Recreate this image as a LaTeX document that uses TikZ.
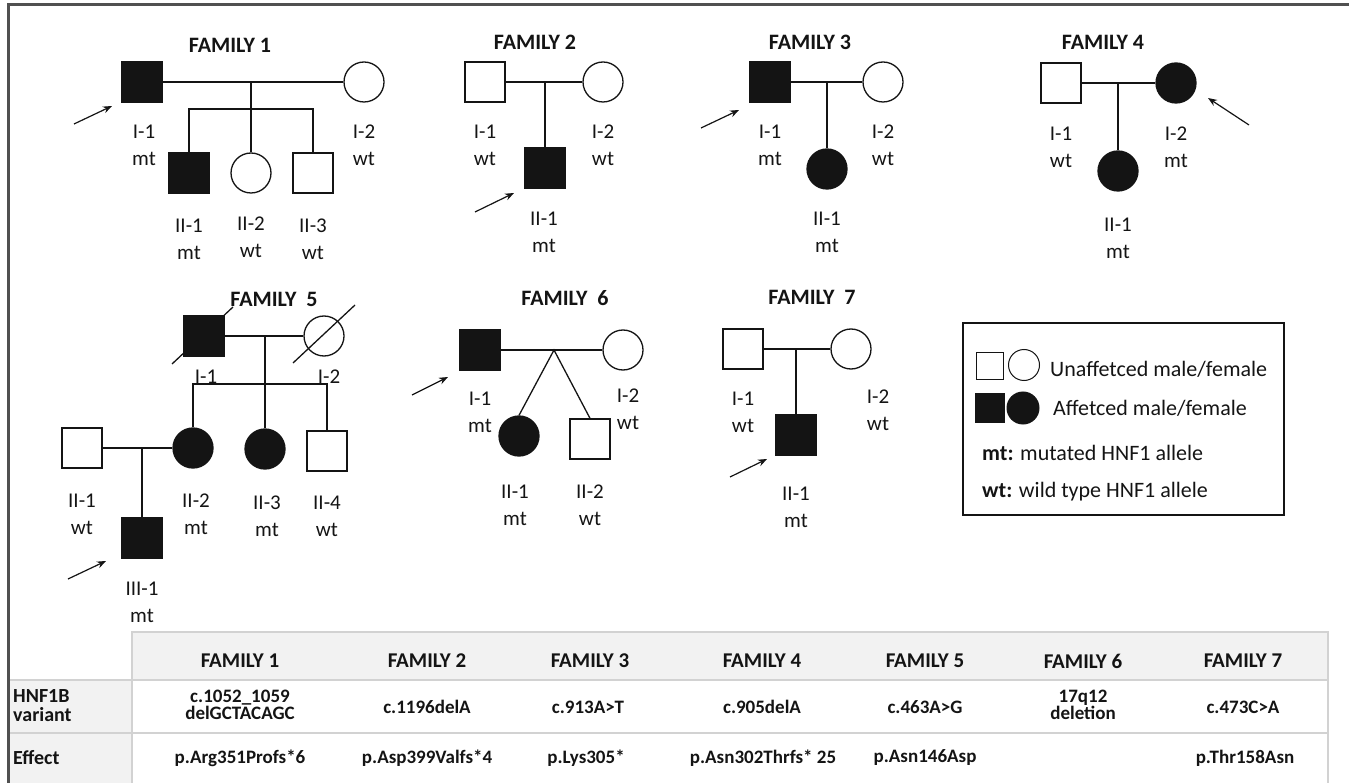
\documentclass[tikz,border=0pt]{standalone}
\usepackage{fontspec}
\setmainfont{Carlito}
\usetikzlibrary{arrows.meta,calc}
\definecolor{ink}{HTML}{141414}
\definecolor{framegray}{HTML}{505050}
\definecolor{cellgray}{HTML}{F2F2F2}
\definecolor{rulegray}{HTML}{D2D2D2}
\tikzset{
  ped/.style={line width=1.3pt, draw=ink},
  msq/.style={rectangle, draw=ink, line width=1.3pt, minimum size=40pt, inner sep=0pt, fill=white},
  fsq/.style={msq, fill=ink},
  fci/.style={circle, draw=ink, line width=1.3pt, minimum size=40pt, inner sep=0pt, fill=white},
  fcf/.style={fci, fill=ink},
  lbl/.style={font=\fontsize{21}{27}\selectfont, text=ink, align=center, inner sep=0pt},
  ttl/.style={font=\bfseries\fontsize{22}{24}\selectfont, text=ink, inner sep=0pt},
  proband/.style={line width=1.2pt, draw=ink, -{Stealth[length=9pt,width=7pt]}},
  legtxt/.style={font=\fontsize{22}{25}\selectfont, text=ink, anchor=west, inner sep=0pt},
  thead/.style={font=\bfseries\fontsize{21}{22}\selectfont, text=ink, inner sep=0pt},
  tcell/.style={font=\bfseries\fontsize{19}{15}\selectfont, text=ink, inner sep=0pt, align=center},
  tleft/.style={font=\bfseries\fontsize{20}{19}\selectfont, text=ink, inner sep=0pt, align=left, anchor=west}
}
\begin{document}
\begin{tikzpicture}[x=1pt,y=-1pt]
\useasboundingbox (0,0) rectangle (1349,783);
% frame
\draw[framegray, line width=3pt] (8,783) -- (8,5) -- (1349,5);

% ===== FAMILY 1 =====
\node[ttl] (t1) at (230,45) {FAMILY 1};
\node[fsq] (f1a) at (142,82) {};
\node[fci] (f1b) at (364,82) {};
\node[fsq] (f1c) at (189,173) {};
\node[fci] (f1d) at (251,173) {};
\node[msq] (f1e) at (313,173) {};
\coordinate (f1m) at (251,82);
\coordinate (f1s) at (251,109);
\draw[ped] (f1a) -- (f1b);
\draw[ped] (f1m) -- (f1d.north);
\draw[ped] (f1c.north) |- (f1s) -| (f1e.north);
\node[lbl] (l1a) at (144,145) {I-1\\mt};
\node[lbl] (l1b) at (364,145) {I-2\\wt};
\node[lbl] (l1c) at (189,239) {II-1\\mt};
\node[lbl] (l1d) at (251,237) {II-2\\wt};
\node[lbl] (l1e) at (313,239) {II-3\\wt};
\coordinate (a1s) at (74,124); \coordinate (a1e) at (112,106);
\draw[proband] (a1s) -- (a1e);

% ===== FAMILY 2 =====
\node[ttl] (t2) at (535,42) {FAMILY 2};
\node[msq] (f2a) at (485,82) {};
\node[fci] (f2b) at (603,82) {};
\node[fsq] (f2c) at (545,168) {};
\coordinate (f2m) at (545,82);
\draw[ped] (f2a) -- (f2b);
\draw[ped] (f2m) -- (f2c.north);
\node[lbl] (l2a) at (485,145) {I-1\\wt};
\node[lbl] (l2b) at (603,145) {I-2\\wt};
\node[lbl] (l2c) at (544,232) {II-1\\mt};
\coordinate (a2s) at (475,212); \coordinate (a2e) at (514,193);
\draw[proband] (a2s) -- (a2e);

% ===== FAMILY 3 =====
\node[ttl] (t3) at (810,42) {FAMILY 3};
\node[fsq] (f3a) at (770,82) {};
\node[fci] (f3b) at (883,82) {};
\node[fcf] (f3c) at (827,169) {};
\coordinate (f3m) at (827,82);
\draw[ped] (f3a) -- (f3b);
\draw[ped] (f3m) -- (f3c.north);
\node[lbl] (l3a) at (770,145) {I-1\\mt};
\node[lbl] (l3b) at (883,145) {I-2\\wt};
\node[lbl] (l3c) at (827,232) {II-1\\mt};
\coordinate (a3s) at (701,128); \coordinate (a3e) at (739,110);
\draw[proband] (a3s) -- (a3e);

% ===== FAMILY 4 =====
\node[ttl] (t4) at (1103,42) {FAMILY 4};
\node[msq] (f4a) at (1061,83) {};
\node[fcf] (f4b) at (1176,83) {};
\node[fcf] (f4c) at (1118,171) {};
\coordinate (f4m) at (1118,83);
\draw[ped] (f4a) -- (f4b);
\draw[ped] (f4m) -- (f4c.north);
\node[lbl] (l4a) at (1061,147) {I-1\\wt};
\node[lbl] (l4b) at (1176,147) {I-2\\mt};
\node[lbl] (l4c) at (1118,238) {II-1\\mt};
\coordinate (a4s) at (1249,125); \coordinate (a4e) at (1208,98);
\draw[proband] (a4s) -- (a4e);

% ===== FAMILY 5 =====
\node[ttl] (t5) at (274,299) {FAMILY\ \ 5};
\node[fsq] (f5a) at (204,336) {};
\node[fci] (f5b) at (324,336) {};
\draw[ped] ($(f5a)+(-32,28)$) -- ($(f5a)+(29,-29)$);
\draw[ped] ($(f5b)+(-31,27)$) -- ($(f5b)+(31,-31)$);
\node[lbl] (l5a) at (206,377) {I-1};
\node[lbl] (l5b) at (329,377) {I-2};
\node[fcf] (f5e) at (193,448) {};
\node[fcf] (f5f) at (265,449) {};
\node[msq] (f5g) at (327,451) {};
\node[msq] (f5d) at (82,448) {};
\node[fsq] (f5h) at (142,538) {};
\coordinate (f5m) at (265,336);
\coordinate (f5s) at (265,384);
\draw[ped] (f5a) -- (f5b);
\draw[ped] (f5m) -- (f5f.north);
\draw[ped] (f5e.north) |- (f5s) -| (f5g.north);
\coordinate (f5n) at (142,448);
\draw[ped] (f5d) -- (f5e);
\draw[ped] (f5n) -- (f5h.north);
\node[lbl] (l5d) at (82,514) {II-1\\wt};
\node[lbl] (l5e) at (196,514) {II-2\\mt};
\node[lbl] (l5f) at (267,516) {II-3\\mt};
\node[lbl] (l5g) at (327,516) {II-4\\wt};
\node[lbl] (l5h) at (142,602) {III-1\\mt};
\coordinate (a5s) at (68,579); \coordinate (a5e) at (106,561);
\draw[proband] (a5s) -- (a5e);

% ===== FAMILY 6 =====
\node[ttl] (t6) at (565,298) {FAMILY\ \ 6};
\node[fsq] (f6a) at (480,350) {};
\node[fci] (f6b) at (623,350) {};
\node[fcf] (f6c) at (519,436) {};
\node[msq] (f6d) at (590,439) {};
\coordinate (f6m) at (554,350);
\draw[ped] (f6a) -- (f6b);
\draw[ped] (f6c.north) -- (f6m) -- (f6d.north);
\node[lbl] (l6a) at (480,412) {I-1\\mt};
\node[lbl] (l6b) at (628,409) {I-2\\wt};
\node[lbl] (l6c) at (515,505) {II-1\\mt};
\node[lbl] (l6d) at (590,505) {II-2\\wt};
\coordinate (a6s) at (412,395); \coordinate (a6e) at (448,377);
\draw[proband] (a6s) -- (a6e);

% ===== FAMILY 7 =====
\node[ttl] (t7) at (812,297) {FAMILY\ \ 7};
\node[msq] (f7a) at (743,349) {};
\node[fci] (f7b) at (851,349) {};
\node[fsq] (f7c) at (796,435) {};
\coordinate (f7m) at (796,349);
\draw[ped] (f7a) -- (f7b);
\draw[ped] (f7m) -- (f7c.north);
\node[lbl] (l7a) at (743,412) {I-1\\wt};
\node[lbl] (l7b) at (878,410) {I-2\\wt};
\node[lbl] (l7c) at (796,507) {II-1\\mt};
\coordinate (a7s) at (730,477); \coordinate (a7e) at (767,459);
\draw[proband] (a7s) -- (a7e);

% ===== LEGEND =====
\node[draw=ink, line width=1.3pt, minimum width=321pt, minimum height=192pt, inner sep=0pt] (leg) at (1123.5,419) {};
\node[msq, minimum size=27pt, line width=1pt] (lg1) at (990,366) {};
\node[fci, minimum size=31pt, line width=1pt] (lg2) at (1024,365) {};
\node[fsq, minimum size=29pt, line width=1pt] (lg3) at (990,408) {};
\node[fcf, minimum size=32pt, line width=1pt] (lg4) at (1023,408) {};
\node[legtxt] (lt1) at (1050,369) {Unaffetced male/female};
\node[legtxt] (lt2) at (1053,408) {Affetced male/female};
\node[legtxt] (lt3) at (982,453) {\textbf{mt:} mutated HNF1 allele};
\node[legtxt] (lt4) at (982,492) {\textbf{wt:} wild type HNF1 allele};

% ===== TABLE =====
\fill[cellgray] (132,632) rectangle (1328,680);
\fill[cellgray] (8,680) rectangle (132,783);
\draw[rulegray, line width=1.2pt] (132,783) -- (132,632) -- (1328,632) -- (1328,783);
\draw[rulegray, line width=1.2pt] (8,680) -- (1328,680);
\draw[rulegray, line width=1.2pt] (8,733) -- (1328,733);
\draw[framegray, line width=3pt] (8,630) -- (8,783);

\node[thead] (h1) at (240,661) {FAMILY 1};
\node[thead] (h2) at (427,661) {FAMILY 2};
\node[thead] (h3) at (590,661) {FAMILY 3};
\node[thead] (h4) at (762,661) {FAMILY 4};
\node[thead] (h5) at (925,661) {FAMILY 5};
\node[thead] (h6) at (1083,661) {FAMILY 6};
\node[thead] (h7) at (1243,661) {FAMILY 7};

\node[tleft] (r1) at (13,706) {HNF1B\\variant};
\node[tleft] (r2) at (13,758) {Effect};

\node[tcell] (v1) at (240,705) {c.1052\_1059\\delGCTACAGC};
\node[tcell] (v2) at (427,707) {c.1196delA};
\node[tcell] (v3) at (588,707) {c.913A>T};
\node[tcell] (v4) at (762,707) {c.905delA};
\node[tcell] (v5) at (925,707) {c.463A>G};
\node[tcell] (v6) at (1083,705) {17q12\\deletion};
\node[tcell] (v7) at (1243,707) {c.473C>A};

\node[tcell] (e1) at (240,758) {p.Arg351Profs*6};
\node[tcell] (e2) at (427,758) {p.Asp399Valfs*4};
\node[tcell] (e3) at (586,758) {p.Lys305*};
\node[tcell] (e4) at (763,758) {p.Asn302Thrfs* 25};
\node[tcell] (e5) at (925,758) {p.Asn146Asp};
\node[tcell] (e7) at (1245,758) {p.Thr158Asn};
\end{tikzpicture}
\end{document}
